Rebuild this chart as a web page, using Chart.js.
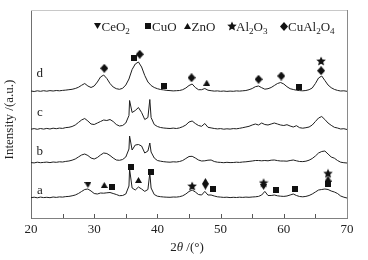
<!DOCTYPE html>
<html><head><meta charset="utf-8">
<script src="https://cdn.jsdelivr.net/npm/chart.js@4/dist/chart.umd.min.js"></script>
<style>html,body{margin:0;padding:0;background:#fff;}</style>
</head><body>
<canvas id="c" width="368" height="260"></canvas>
<script>
// 2θ sample positions (degrees)
const twoTheta = [
20,20.5,21,21.5,22,22.5,23,23.5,24,24.5,
25,25.5,26,26.5,27,27.5,28,28.5,29,29.5,
30,30.5,31,31.5,32,32.5,33,33.5,34,34.5,
35,35.5,35.6,36,36.5,37,37.5,38,38.5,38.8,
39,39.5,40,40.5,41,41.5,42,42.5,43,43.5,
44,44.5,45,45.5,46,46.5,47,47.5,48,48.5,
49,49.5,50,50.5,51,51.5,52,52.5,53,53.5,
54,54.5,55,55.5,56,56.5,57,57.5,58,58.5,
59,59.5,60,60.5,61,61.5,62,62.5,63,63.5,
64,64.5,65,65.5,66,66.5,67,67.5,68,68.5,
69,69.5,70];

const sampleLabels = ['a','b','c','d'];
const curveOffsets = [20, 55, 88.5, 126.5];
const sampleLabelAt = [[21.4,27],[21.4,66.3],[21.4,105.3],[21.4,144]];

const intensityA = [
0.3,0.8,0.2,0.9,0.4,0.7,0.3,1.0,0.6,1.1,
0.9,1.4,1.6,2.2,3,4.5,6.5,8.5,9,7,
4.5,4,5,4.8,5.2,5.5,4.5,3.5,2.3,2.5,
4,12,29,10,8,11,9,6.6,8.5,25,
10,3.5,1.8,1.3,1.0,0.8,0.7,1.0,0.9,1.3,
2.2,4,6.5,8,6,3.5,3,6.6,3,3,
2,1.2,0.9,0.6,0.8,0.4,0.7,0.5,0.8,0.6,
0.9,0.7,1.0,1.2,1.6,3,6.6,2.5,2.5,3,
2.2,1.8,1.6,2,3,4,2.5,1.5,1.2,1.6,
2.5,4,6,8,8.5,9,8.5,7,6,4.5,
2.0,0.8,0];

const intensityB = [
0.4,0.1,0.8,0.3,0.6,0.9,0.4,1.0,0.7,1.2,
1.0,1.6,2.0,2.8,4,6,8,9,7.5,5,
4,5.5,8,10,9.5,7.5,5,3,2.7,3.5,
6,14,27,13,18,18.5,17,10,12,20,
11,5,2.5,1.8,1.3,1.0,0.8,1.2,1.0,1.5,
2.5,4.5,6.5,6.7,5,3,2,2.2,2.8,3,
1.5,0.8,0.6,0.3,0.7,0.4,0.5,0.8,0.6,1.0,
1.2,1.6,2,2.5,2.5,2.2,2.5,2.2,2.8,3,
2.4,2,2,1.8,2.5,3,2.2,1.5,1.4,1.8,
2.8,4.5,7,10,11.5,12,9,6,4.8,2.5,
0.8,0.3,0];

const intensityC = [
0.3,0.9,0.2,1.0,0.4,1.1,0.5,1.3,0.8,1.4,
1.1,1.9,2.2,3.0,4.5,7,9.5,11,8.5,5.5,
5,6.5,8,9.5,9,10,8,5,3.5,4,
6.5,14,29,17,19,22,17,10,12,30,
12,5,3,2,1.5,1.2,1.0,1.4,1.0,1.6,
2.8,4.5,7.5,8.5,6,4,3.2,6,2.2,1.6,
1.0,0.6,0.9,0.3,0.7,0.4,0.9,0.7,1.2,1.8,
2.5,3.2,4.5,5.5,4.5,6.5,5,4.5,5.5,6.5,
5.5,4.5,4,4.8,3.5,2.5,3.8,1.8,1.3,1.8,
2.5,4.5,8,11.5,13,10,6.5,4.2,2.2,1.5,
0.5,0.8,0];

const intensityD = [
0.5,0,0.7,0.2,0.8,0.3,0.9,0.5,1.0,0.7,
1.1,1.4,1.8,2.2,3.0,4.2,6.2,8.0,5.5,4.0,
5.5,9.5,14.5,16.5,13,8,4.5,2.8,2.2,3.2,
6.5,12.5,14.5,22,27.5,29.5,24.5,16,9.5,7.5,
6,4,2.8,2,1.6,1.1,0.9,0.6,0.8,1.0,
1.8,3.5,6,7.5,4,1.8,1.8,3,1.3,0.8,
0.4,0.6,0.2,0.5,0.1,0.4,0.2,0.6,0.4,0.7,
1.0,1.8,3,4.8,5.5,3.8,2.3,2.8,4,6,
8,9,7.5,4.8,2.8,2,1.3,0.9,0.7,1.0,
1.8,3.5,8,13.5,15.5,11,6.5,3.8,2.1,1.1,
0.5,0.7,0.2];

// phase markers [2θ, height]
const ceo2Marks = [[29.0,33],[47.6,31.3],[56.8,31]];
const cuoMarks = [[36.3,160.3],[41.1,132.5],[62.4,131.3],[32.8,31.3],[35.8,51.3],[39.0,45.7],[48.8,29],[58.8,28],[61.8,29],[67.0,33.7]];
const znoMarks = [[47.8,135.3],[31.6,33],[37.0,38],[47.6,37],[67.0,39.5]];
const al2o3Marks = [[65.9,157],[45.5,32],[56.8,35.3],[67.0,44.7]];
const cual2o4Marks = [[31.6,149.7],[37.2,163.7],[45.4,140.3],[56.0,138.7],[59.6,142],[65.9,147.3]];

const legendLabels = ['CeO_2','CuO','ZnO','Al_2O_3','CuAl_2O_4'];
const legendMarkX = [97, 147.5, 187, 231.5, 283.5];

const FONT = '"Liberation Serif", "Times New Roman", serif';
const INK = '#111';

function mk(w, h, draw) {
  const c = document.createElement('canvas'); c.width = w; c.height = h;
  const g = c.getContext('2d'); g.fillStyle = INK; g.beginPath(); draw(g); g.fill(); return c;
}
const shapeDown = mk(7, 6, g => { g.moveTo(0,0); g.lineTo(7,0); g.lineTo(3.5,6); g.closePath(); });
const shapeSquare = mk(6, 6, g => { g.rect(0,0,6,6); });
const shapeUp = mk(7, 6, g => { g.moveTo(3.5,0); g.lineTo(7,6); g.lineTo(0,6); g.closePath(); });
const shapeDiamond = mk(8, 9, g => { g.moveTo(4,0); g.lineTo(8,4.5); g.lineTo(4,9); g.lineTo(0,4.5); g.closePath(); });
const shapeStar = mk(10, 10, g => {
  for (let i = 0; i < 10; i++) {
    const r = i % 2 ? 2.3 : 5; const a = -Math.PI/2 + i*Math.PI/5;
    const px = 5 + r*Math.cos(a), py = 5.4 + r*Math.sin(a);
    i ? g.lineTo(px,py) : g.moveTo(px,py);
  }
  g.closePath();
});
const legendShapes = [shapeDown, shapeSquare, shapeUp, shapeStar, shapeDiamond];

const series = [intensityA, intensityB, intensityC, intensityD];
const lineSets = series.map((s, k) => ({
  type: 'line',
  data: twoTheta.map((t, i) => ({x: t, y: s[i] + curveOffsets[k]})),
  borderColor: '#1e1e1e', borderWidth: 1, pointRadius: 0, tension: 0, fill: false, order: 2
}));
function markSet(arr, shape) {
  return { type: 'scatter', data: arr.map(p => ({x: p[0], y: p[1]})),
    pointStyle: shape, pointRadius: 4, showLine: false, order: 1 };
}
const markSets = [markSet(ceo2Marks, shapeDown), markSet(cuoMarks, shapeSquare), markSet(znoMarks, shapeUp),
  markSet(al2o3Marks, shapeStar), markSet(cual2o4Marks, shapeDiamond)];

function drawSubText(ctx, str, x, y, size) {
  let cx = x;
  for (let i = 0; i < str.length; i++) {
    if (str[i] === '_') {
      i++; ctx.font = (size*0.7) + 'px ' + FONT; ctx.fillText(str[i], cx, y + 3); cx += ctx.measureText(str[i]).width;
    } else {
      ctx.font = size + 'px ' + FONT; ctx.fillText(str[i], cx, y); cx += ctx.measureText(str[i]).width;
    }
  }
}

const extras = {
  id: 'extras',
  afterDraw(chart) {
    const ctx = chart.ctx, ca = chart.chartArea, xs = chart.scales.x, ys = chart.scales.y;
    ctx.save();
    ctx.lineWidth = 1;
    ctx.strokeStyle = '#c8c8c8';
    ctx.beginPath(); ctx.moveTo(ca.left, ca.top + 0.5); ctx.lineTo(ca.right, ca.top + 0.5); ctx.stroke();
    ctx.strokeStyle = '#8a8a8a';
    ctx.beginPath(); ctx.moveTo(Math.round(ca.right) + 0.5, ca.top); ctx.lineTo(Math.round(ca.right) + 0.5, ca.bottom); ctx.stroke();
    ctx.strokeStyle = '#555';
    for (let v = 25; v < 70; v += 5) {
      const px = Math.round(xs.getPixelForValue(v)) + 0.5;
      ctx.beginPath(); ctx.moveTo(px, ca.bottom); ctx.lineTo(px, ca.bottom - 4); ctx.stroke();
    }
    ctx.fillStyle = '#222';
    ctx.textBaseline = 'middle';
    ctx.textAlign = 'center';
    ctx.font = '13px ' + FONT;
    sampleLabels.forEach((s, k) => {
      ctx.fillText(s, xs.getPixelForValue(sampleLabelAt[k][0]), ys.getPixelForValue(sampleLabelAt[k][1]));
    });
    ctx.textAlign = 'left';
    ctx.textBaseline = 'alphabetic';
    const parts = [['2', ''], ['θ', 'italic '], [' /(°)', '']];
    let tw = 0;
    parts.forEach(p => { ctx.font = p[1] + '13px ' + FONT; tw += ctx.measureText(p[0]).width; });
    let tx = (ca.left + ca.right) / 2 - tw / 2 - 2;
    parts.forEach(p => { ctx.font = p[1] + '13px ' + FONT; ctx.fillText(p[0], tx, 251); tx += ctx.measureText(p[0]).width; });
    ctx.save();
    ctx.translate(10, 119.5); ctx.rotate(-Math.PI / 2);
    ctx.textAlign = 'center'; ctx.textBaseline = 'middle'; ctx.font = '13px ' + FONT;
    ctx.fillText('Intensity /(a.u.)', 0, 0);
    ctx.restore();
    ctx.textAlign = 'left'; ctx.textBaseline = 'alphabetic';
    legendLabels.forEach((lab, i) => {
      const sh = legendShapes[i];
      ctx.drawImage(sh, Math.round(legendMarkX[i] - sh.width / 2), Math.round(26 - sh.height / 2));
      drawSubText(ctx, lab, legendMarkX[i] + 4.5, 30.5, 13);
    });
    ctx.restore();
  }
};

new Chart(document.getElementById('c'), {
  data: { datasets: [...lineSets, ...markSets] },
  options: {
    responsive: false, animation: false, devicePixelRatio: 1,
    layout: { padding: { top: 10, right: 21, left: 0, bottom: 0 } },
    plugins: { legend: { display: false }, tooltip: { enabled: false } },
    scales: {
      x: { type: 'linear', min: 20, max: 70,
        ticks: { stepSize: 10, color: '#222', padding: 4, font: { family: FONT, size: 13 } },
        grid: { display: false, drawTicks: false },
        border: { display: true, color: '#808080', width: 1 },
        afterFit: s => { s.height = 42; } },
      y: { type: 'linear', min: 0, max: 208,
        ticks: { display: false },
        grid: { display: false, drawTicks: false },
        border: { display: true, color: '#707070', width: 1 },
        afterFit: s => { s.width = 31; } }
    }
  },
  plugins: [extras]
});
</script>
</body></html>
